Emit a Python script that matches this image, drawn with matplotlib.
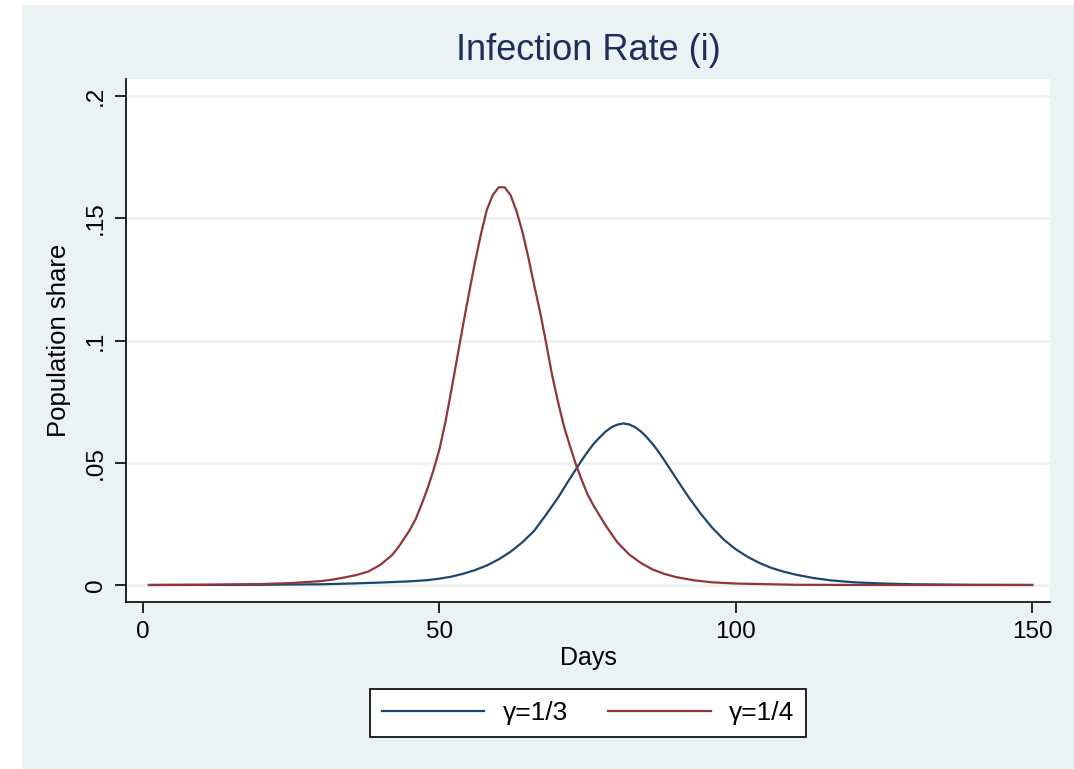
"""
Infection rate (i) for two recovery rates, Stata s2color look.
"""

import matplotlib
matplotlib.use("Agg")
import matplotlib.pyplot as plt
from matplotlib.patches import Rectangle

plt.rcParams['font.family'] = ['Liberation Sans', 'DejaVu Sans']

# values
days_g3 = [1, 20, 30, 35, 40, 45, 48, 50, 52, 54, 56, 58, 60, 62, 64, 66, 68, 70,
           72, 74, 75, 76, 77, 78, 79, 80, 81, 82, 83, 84, 85, 86, 87, 88, 89, 90,
           91, 92, 94, 96, 98, 100, 102, 104, 106, 108, 110, 113, 116, 120, 125,
           130, 140, 150]
share_g3 = [0.00001, 0.0001, 0.0003, 0.0006, 0.001, 0.0015, 0.002, 0.0026, 0.0034,
            0.0046, 0.0061, 0.0080, 0.0105, 0.0136, 0.0175, 0.0222, 0.0288, 0.0357,
            0.0435, 0.0510, 0.0545, 0.0577, 0.0603, 0.0627, 0.0645, 0.0656, 0.0661,
            0.0657, 0.0646, 0.0628, 0.0604, 0.0576, 0.0544, 0.0508, 0.0471, 0.0434,
            0.0397, 0.0361, 0.0294, 0.0235, 0.0185, 0.0146, 0.0115, 0.0090, 0.0070,
            0.0055, 0.0043, 0.0029, 0.0019, 0.0011, 0.0006, 0.0003, 0.00008, 0.00002]

days_g4 = [1, 10, 20, 25, 30, 32, 34, 36, 38, 40, 42, 43, 44, 45, 46, 47, 48, 49,
           50, 51, 52, 53, 54, 55, 56, 57, 58, 59, 60, 61, 62, 63, 64, 65, 66, 67,
           68, 69, 70, 71, 72, 73, 74, 75, 76, 77, 78, 80, 82, 84, 86, 88, 90, 93,
           96, 100, 110, 120, 135, 150]
share_g4 = [0.00002, 0.0001, 0.0004, 0.0008, 0.0016, 0.0022, 0.0031, 0.0041, 0.0055,
            0.0082, 0.0122, 0.0152, 0.0188, 0.0225, 0.027, 0.033, 0.0395, 0.047,
            0.0555, 0.0665, 0.0795, 0.093, 0.1065, 0.1195, 0.132, 0.1435, 0.1535,
            0.1595, 0.1627, 0.1627, 0.1595, 0.153, 0.1445, 0.134, 0.1225, 0.1115,
            0.099, 0.086, 0.075, 0.065, 0.057, 0.0495, 0.043, 0.037, 0.0325, 0.0285,
            0.0245, 0.0175, 0.0125, 0.009, 0.0063, 0.0045, 0.0032, 0.0019, 0.0011,
            0.0006, 0.0001, 0.00003, 0.00001, 0.0]

labels = ["γ=1/3", "γ=1/4"]
y_ticks = [0, 0.05, 0.1, 0.15, 0.2]
y_ticklabels = ["0", ".05", ".1", ".15", ".2"]
x_ticks = [0, 50, 100, 150]

BG = "#eaf2f3"
NAVY = "#1a476f"
MAROON = "#90353b"

fig = plt.figure(figsize=(10.74, 7.69), dpi=100, facecolor="white")
# light panel behind everything, leaves a thin white strip top/left
fig.add_artist(Rectangle((22 / 1074, 0), 1 - 22 / 1074, 1 - 5 / 769,
                         transform=fig.transFigure, facecolor=BG,
                         edgecolor="none", zorder=-10))

ax = fig.add_axes([126 / 1074, 1 - 602 / 769, 924 / 1074, 523 / 769])
ax.set_facecolor("white")

ax.plot(days_g3, share_g3, color=NAVY, lw=1.6, label=labels[0], zorder=3)
ax.plot(days_g4, share_g4, color=MAROON, lw=1.6, label=labels[1], zorder=3)

ax.set_xlim(-2.87, 153.0)
ax.set_ylim(-0.00695, 0.207)
ax.set_xticks(x_ticks)
ax.set_yticks(y_ticks)
ax.set_yticklabels(y_ticklabels, rotation=90, va="center")
ax.tick_params(labelsize=17.5, length=8, width=1.2, color="black", pad=6)

for t in y_ticks:
    ax.axhline(t, color=BG, lw=1.8, zorder=1)

for side in ["top", "right"]:
    ax.spines[side].set_visible(False)
for side in ["left", "bottom"]:
    ax.spines[side].set_color("black")
    ax.spines[side].set_linewidth(1.2)

ax.set_xlabel("Days", fontsize=18, labelpad=2)
ax.set_ylabel("Population share", fontsize=18.5, labelpad=10)
ax.set_title("Infection Rate (i)", fontsize=26, color="#1e2d5a", pad=14)

leg = fig.legend(loc="center", bbox_to_anchor=(588 / 1074, 1 - 713 / 769),
                 ncol=2, fontsize=19, frameon=True, fancybox=False,
                 handlelength=3.9, handletextpad=0.7, columnspacing=1.5,
                 borderpad=0.45, borderaxespad=0, framealpha=1)
leg.get_frame().set_edgecolor("black")
leg.get_frame().set_linewidth(1.2)
leg.get_frame().set_facecolor("white")

fig.savefig("out.png", dpi=100, facecolor=fig.get_facecolor())
